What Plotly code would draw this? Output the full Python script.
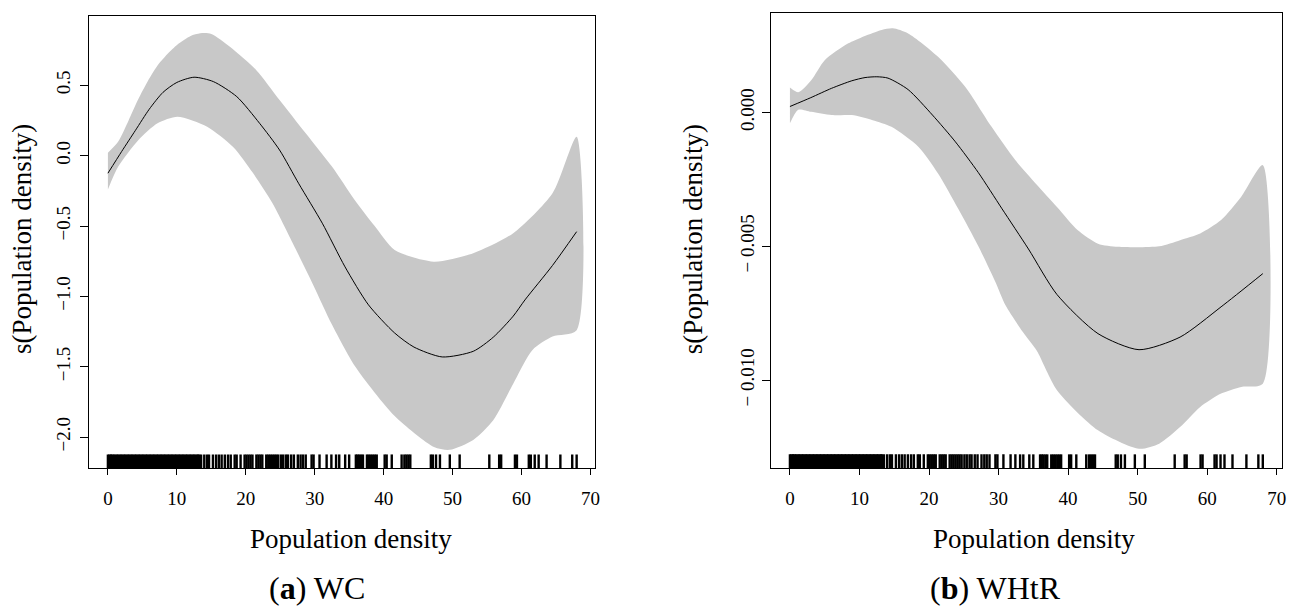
import plotly.graph_objects as go

# ---------------- data ----------------
# (a) WC smooth term
wc_x = [0, 2.0, 4.0, 6.0, 8.0, 10.0, 12.5, 15.3, 18.7, 22.0, 24.9, 27.7, 31.1, 34.4, 37.8,
        41.6, 44.4, 48.5, 53.0, 55.9, 58.8, 60.5, 64.5, 68.0]
wc_fit = [-0.125, 0.03, 0.18, 0.33, 0.45, 0.52, 0.557, 0.526, 0.419, 0.23, 0.04, -0.20, -0.48,
          -0.79, -1.06, -1.26, -1.36, -1.43, -1.39, -1.29, -1.14, -1.025, -0.78, -0.54]
wc_up_x = [0, 1.5, 3.0, 4.4, 5.8, 7.2, 8.6, 10.1, 12.0, 13.4, 15.0, 17.7, 21.5, 24.9, 28.7,
           32.5, 35.8, 38.7, 41.6, 47.3, 53.0, 58.8, 64.5, 68.0]
wc_up = [0.02, 0.10, 0.25, 0.40, 0.53, 0.64, 0.72, 0.79, 0.85, 0.869, 0.865, 0.774, 0.609,
         0.396, 0.159, -0.078, -0.315, -0.50, -0.67, -0.753, -0.693, -0.551, -0.267, 0.135]
wc_lo_x = [0, 1.5, 4.4, 7.2, 10.1, 14.4, 18.2, 21.0, 23.9, 26.8, 29.8, 32.5, 35.9, 41.6, 47.3,
           49.6, 53.0, 55.9, 58.8, 61.6, 64.5, 68.0]
wc_lo = [-0.24, -0.078, 0.11, 0.23, 0.277, 0.206, 0.06, -0.12, -0.34, -0.62, -0.92, -1.20, -1.50,
         -1.85, -2.07, -2.09, -2.02, -1.88, -1.62, -1.38, -1.285, -1.24]

# (b) WHtR smooth term
wh_x = [0, 3.0, 6.0, 8.9, 10.8, 12.5, 14.1, 17.0, 20.5, 23.8, 27.1, 30.5, 34.3, 38.4, 44.3,
        50.2, 56.1, 62.0, 68.0]
wh_fit = [0.00022, 0.00055, 0.0009, 0.00118, 0.0013, 0.00133, 0.00128, 0.00085, -0.0001,
          -0.0011, -0.00225, -0.0036, -0.0051, -0.0068, -0.00826, -0.00886, -0.00839,
          -0.00726, -0.00602]
wh_up_x = [0, 1.2, 3.06, 5.0, 8.4, 13.2, 14.8, 17.0, 21.3, 25.2, 29.0, 32.4, 35.5, 38.4, 41.4,
           44.3, 47.2, 53.1, 56.1, 59.0, 62.0, 64.9, 68.0]
wh_up = [0.00093, 0.00075, 0.0012, 0.00195, 0.00258, 0.00308, 0.00314, 0.00295, 0.00208,
         0.00096, -0.00054, -0.00178, -0.0027, -0.00353, -0.0044, -0.0049, -0.00502, -0.0050,
         -0.00477, -0.00452, -0.00402, -0.00315, -0.00197]
wh_lo_x = [0, 1.2, 3.06, 6.0, 8.9, 11.9, 14.6, 18.5, 21.3, 24.2, 27.1, 29.5, 31.0, 33.5, 35.5,
           38.4, 44.3, 50.2, 53.1, 56.1, 59.0, 62.0, 64.9, 68.0]
wh_lo = [-0.00041, 0.0001, 0.00002, -0.0001, -0.0001, -0.00029, -0.00054, -0.00129, -0.00228,
         -0.0036, -0.0050, -0.0063, -0.0072, -0.0082, -0.0089, -0.01037, -0.01187, -0.01256,
         -0.01237, -0.01175, -0.0110, -0.0105, -0.01025, -0.01013]

# observed population density values (rug)
rug_vals = [0.0, 0.2, 0.4, 0.5, 0.7, 0.9, 1.1, 1.3, 1.5, 1.7, 1.9, 2.1, 2.3, 2.5, 2.7, 2.9, 3.1,
            3.3, 3.5, 3.7, 3.9, 4.1, 4.3, 4.5, 4.7, 4.9, 5.1, 5.3, 5.5, 5.7, 5.9, 6.1, 6.3, 6.5,
            6.7, 6.9, 7.1, 7.3, 7.5, 7.7, 7.9, 8.1, 8.3, 8.5, 8.7, 8.9, 9.1, 9.3, 9.5, 9.7, 9.9,
            10.1, 10.3, 10.5, 10.7, 10.9, 11.1, 11.3, 11.5, 11.7, 11.9, 12.1, 12.3, 12.5, 12.7,
            12.9, 13.1, 13.24, 13.52, 13.98, 14.38, 14.67, 15.24, 15.70, 16.10, 16.50, 16.96,
            17.42, 17.82, 18.39, 18.68, 19.25, 19.83, 20.11, 20.40, 20.69, 20.97, 21.54, 21.83,
            22.12, 22.40, 22.97, 23.26, 23.54, 23.83, 24.12, 24.40, 24.69, 25.09, 25.43, 25.83,
            26.12, 26.58, 26.98, 27.55, 27.95, 28.30, 28.70, 29.55, 29.84, 30.70, 31.73, 32.42,
            33.10, 33.56, 34.42, 35.00, 35.97, 36.20, 36.43, 36.72, 37.00, 37.58, 37.86, 38.15,
            38.44, 38.72, 39.00, 40.15, 40.44, 41.18, 42.61, 43.01, 43.30, 43.59, 43.87, 46.85,
            47.14, 47.60, 48.17, 49.60, 51.03, 55.33, 56.76, 57.05, 59.05, 59.34, 61.06, 61.35,
            61.92, 62.49, 63.64, 65.64, 67.36, 68.0]

x_ticks = [0, 10, 20, 30, 40, 50, 60, 70]
wc_yticks = [-2.0, -1.5, -1.0, -0.5, 0.0, 0.5]
wc_yticktext = ["\u22122.0", "\u22121.5", "\u22121.0", "\u22120.5", "0.0", "0.5"]
wh_yticks = [-0.010, -0.005, 0.000]
wh_yticktext = ["\u2212 0.010", "\u2212 0.005", "0.000"]

x_title = "Population density"
y_title = "s(Population density)"
panel_titles = ["(<b>a</b>) WC", "(<b>b</b>) WHtR"]

# ---------------- figure ----------------
W, H = 1293, 609
FONT = "Liberation Serif"
BAND = "#c8c8c8"

fig = go.Figure()


def add_panel(xa, ya, fx, fy, ux, uy, lx, ly):
    fig.add_trace(go.Scatter(
        x=list(ux) + list(reversed(lx)), y=list(uy) + list(reversed(ly)),
        fill="toself", fillcolor=BAND, line=dict(width=0, shape="spline", smoothing=0.7),
        mode="lines", xaxis=xa, yaxis=ya, showlegend=False, hoverinfo="skip"))
    fig.add_trace(go.Scatter(
        x=fx, y=fy, mode="lines", line=dict(color="black", width=1, shape="spline", smoothing=0.7),
        xaxis=xa, yaxis=ya, showlegend=False))
    for v in rug_vals:
        fig.add_shape(type="line", xref=xa, yref=ya + " domain", x0=v, x1=v, y0=0, y1=0.03,
                      line=dict(color="black", width=2.4))


add_panel("x", "y", wc_x, wc_fit, wc_up_x, wc_up, wc_lo_x, wc_lo)
add_panel("x2", "y2", wh_x, wh_fit, wh_up_x, wh_up, wh_lo_x, wh_lo)

axis_common = dict(showgrid=False, zeroline=False, showline=True, mirror=True,
                   linecolor="black", linewidth=1, ticks="outside",
                   tickcolor="black", tickwidth=1)

tfont = dict(family=FONT, size=19, color="black")

fig.update_layout(
    width=W, height=H, paper_bgcolor="white", plot_bgcolor="white",
    margin=dict(l=0, r=0, t=0, b=0),
    xaxis=dict(domain=[89.5 / W, 597.7 / W], range=[-2.72, 70.72], tickvals=x_ticks,
               tickfont=tfont, ticklen=6, ticklabelstandoff=7, anchor="y", **axis_common),
    yaxis=dict(domain=[(H - 468) / H, (H - 16) / H], range=[-2.219, 0.992],
               tickvals=wc_yticks, ticktext=wc_yticktext, tickangle=-90, ticklen=8,
               tickfont=tfont, ticklabelstandoff=3, anchor="x", **axis_common),
    xaxis2=dict(domain=[774 / W, 1286.7 / W], range=[-2.72, 70.72], tickvals=x_ticks,
                tickfont=tfont, ticklen=6, ticklabelstandoff=7, anchor="y2", **axis_common),
    yaxis2=dict(domain=[(H - 468) / H, (H - 12.7) / H], range=[-0.013277, 0.003722],
                tickvals=wh_yticks, ticktext=wh_yticktext, tickangle=-90, ticklen=8,
                tickfont=tfont, ticklabelstandoff=0, anchor="x2", **axis_common),
)

ann = []
for xc in (22, 696):
    ann.append(dict(text=y_title, x=xc / W, y=(H - 239) / H, xref="paper", yref="paper",
                    textangle=-90, showarrow=False, xanchor="center", yanchor="middle",
                    font=dict(family=FONT, size=27, color="black")))
for xc in (352.5, 1038.4):
    ann.append(dict(text=x_title, x=xc / W, y=(H - 539) / H, xref="paper", yref="paper",
                    showarrow=False, xanchor="center", yanchor="middle",
                    font=dict(family=FONT, size=27, color="black")))
for xc, t in zip((318, 999), panel_titles):
    ann.append(dict(text=t, x=xc / W, y=(H - 588) / H, xref="paper", yref="paper",
                    showarrow=False, xanchor="center", yanchor="middle",
                    font=dict(family=FONT, size=32, color="black")))
fig.update_layout(annotations=ann)

fig.write_html("out.html", config={"displayModeBar": False},
               post_script="document.body.style.margin='0';document.body.style.overflow='hidden';")
